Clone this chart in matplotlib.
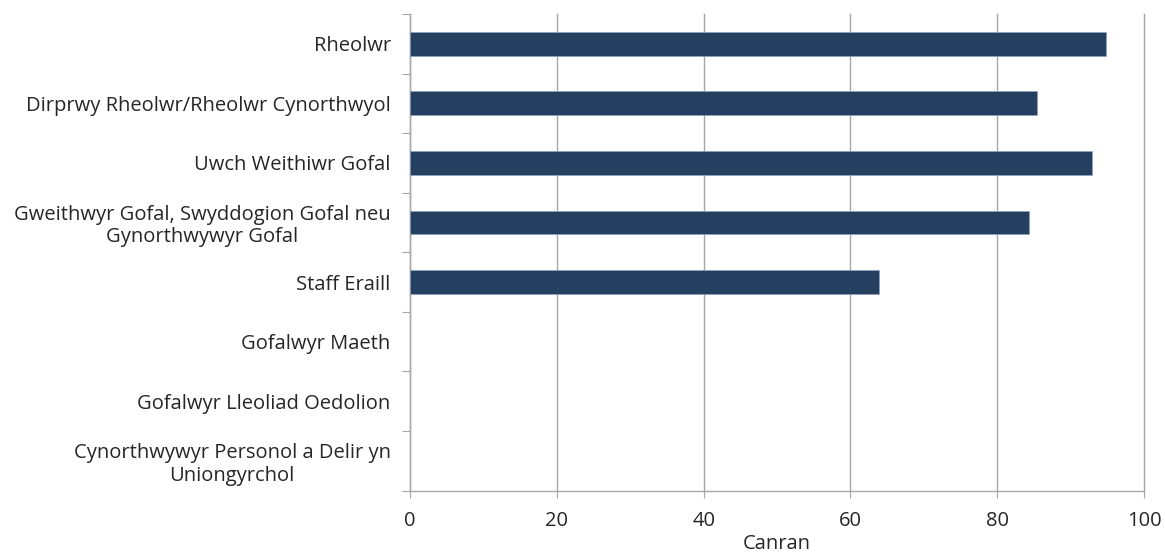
import numpy as np
import matplotlib.pyplot as plt

plt.rcParams['font.family'] = ['Open Sans', 'DejaVu Sans']

categories = [
    "Rheolwr",
    "Dirprwy Rheolwr/Rheolwr Cynorthwyol",
    "Uwch Weithiwr Gofal",
    "Gweithwyr Gofal, Swyddogion Gofal neu\nGynorthwywyr Gofal",
    "Staff Eraill",
    "Gofalwyr Maeth",
    "Gofalwyr Lleoliad Oedolion",
    "Cynorthwywyr Personol a Delir yn\nUniongyrchol",
]
values = [94.8, 85.4, 92.9, 84.3, 63.9, np.nan, np.nan, np.nan]
xticks = [0, 20, 40, 60, 80, 100]

bar_color = "#243F60"
grid_color = "#A6A6A6"
text_color = "#262626"
fs = 14.5

fig = plt.figure(figsize=(11.65, 5.6), dpi=100)
ax = fig.add_axes([0.352, 0.124, 0.630, 0.851])

y = np.arange(len(categories))
ax.barh(y, values, height=0.4, color=bar_color, edgecolor="#8FA3BF",
        linewidth=0.5, zorder=3)

ax.set_xlim(0, 100)
ax.set_ylim(len(categories) - 0.5, -0.5)
ax.set_xticks(xticks)
ax.set_xticklabels([str(t) for t in xticks])
ax.xaxis.grid(True, color=grid_color, linewidth=1.0, zorder=0)
for gl in ax.get_xgridlines():
    gl.set_clip_on(False)

# category boundaries as major ticks, labels on minor ticks at centres
ax.set_yticks(np.arange(-0.5, len(categories), 1.0))
ax.set_yticklabels([])
ax.set_yticks(y, minor=True)
ax.set_yticklabels(categories, minor=True, multialignment="center",
                   linespacing=1.15)
ax.tick_params(axis="y", which="major", length=6, color=grid_color)
ax.tick_params(axis="y", which="minor", length=0, pad=14,
               labelsize=fs, labelcolor=text_color)
ax.tick_params(axis="x", length=5, color=grid_color, pad=10,
               labelsize=fs, labelcolor=text_color)

for side in ["top", "right"]:
    ax.spines[side].set_visible(False)
for side in ["left", "bottom"]:
    ax.spines[side].set_color(grid_color)
    ax.spines[side].set_linewidth(1.0)

ax.set_xlabel("Canran", fontsize=fs, color=text_color, labelpad=2)

fig.savefig("out.png", dpi=100)
